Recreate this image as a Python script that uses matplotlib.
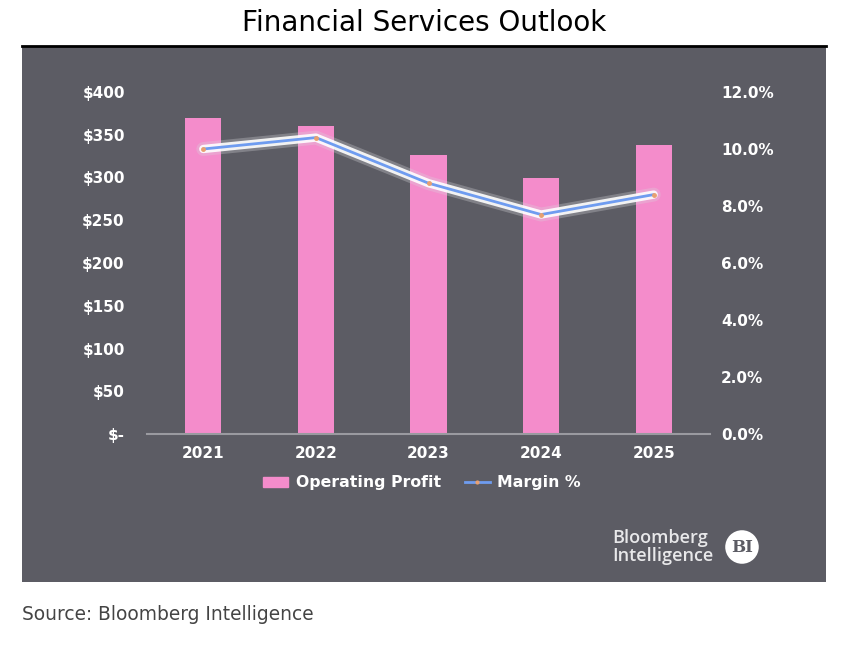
import matplotlib
matplotlib.use("Agg")
import matplotlib.pyplot as plt
import matplotlib.patches as mpatches
import matplotlib.patheffects as pe
from matplotlib.lines import Line2D
import numpy as np

years = ["2021", "2022", "2023", "2024", "2025"]
profit = [370, 360, 326, 300, 338]
margin = [10.0, 10.4, 8.8, 7.7, 8.4]
left_ticks = [0, 50, 100, 150, 200, 250, 300, 350, 400]
right_ticks = [0, 2, 4, 6, 8, 10, 12]

W, H = 848, 654
bg = "#5c5c64"
pink = "#f48ccb"
blue = "#6f9cf0"
dot = "#e8a070"

fig = plt.figure(figsize=(W / 100, H / 100), dpi=100)

# dark panel + black top line
fig.patches.append(mpatches.Rectangle((22 / W, 1 - 582 / H), 804 / W, 536 / H,
                                      transform=fig.transFigure, fc=bg, ec="none", zorder=-10))
fig.add_artist(Line2D([22 / W, 826 / W], [1 - 46 / H] * 2, color="black", lw=2))

fig.text(424 / W, 1 - 23 / H, "Financial Services Outlook", ha="center", va="center",
         fontsize=20, color="black")
fig.text(22 / W, 1 - 615 / H, "Source: Bloomberg Intelligence", ha="left", va="center",
         fontsize=13.4, color="#444444")

ax = fig.add_axes([147 / W, 1 - 434 / H, 563 / W, 342 / H])
ax.set_zorder(2)
ax.set_facecolor("none")
x = np.arange(len(years))
ax.bar(x, profit, width=0.32, color=pink, zorder=2)
ax.set_xlim(-0.5, len(years) - 0.5)
ax.set_ylim(0, 400)
ax.set_yticks(left_ticks)
ax.set_yticklabels(["$-" if v == 0 else "${}".format(v) for v in left_ticks])
ax.set_xticks(x)
ax.set_xticklabels(years)
for s in ["top", "left", "right"]:
    ax.spines[s].set_visible(False)
ax.spines["bottom"].set_color("#9a9aa0")
ax.spines["bottom"].set_linewidth(1.5)
ax.tick_params(axis="both", length=0, colors="white", labelsize=11)
ax.tick_params(axis="y", pad=16)
ax.tick_params(axis="x", pad=9)
for lab in ax.get_xticklabels() + ax.get_yticklabels():
    lab.set_fontweight("bold")

ax2 = ax.twinx()
ax2.set_ylim(0, 12)
ax2.set_yticks(right_ticks)
ax2.set_yticklabels(["{:.1f}%".format(v) for v in right_ticks])
for s in ["top", "left", "right", "bottom"]:
    ax2.spines[s].set_visible(False)
ax2.tick_params(axis="y", length=0, colors="white", labelsize=11, pad=8)
for lab in ax2.get_yticklabels():
    lab.set_fontweight("bold")
ax2.plot(x, margin, color=blue, lw=2, zorder=3, solid_joinstyle="round",
         solid_capstyle="round",
         path_effects=[pe.Stroke(linewidth=10, foreground="#d8d8dc", alpha=0.3),
                       pe.Stroke(linewidth=6, foreground="white", alpha=0.9),
                       pe.Normal()])
ax2.plot(x, margin, ls="none", marker="o", ms=2.5, mfc=dot, mec=dot, zorder=4)

handles = [mpatches.Patch(color=pink, label="Operating Profit"),
           Line2D([], [], color=blue, lw=2, marker="o", ms=2, mfc=dot,
                  mec=dot, label="Margin %")]
leg = fig.legend(handles=handles, loc="center", bbox_to_anchor=(422 / W, 1 - 483 / H),
                 ncol=2, frameon=False, handlelength=1.6, handleheight=0.6,
                 columnspacing=1.5, handletextpad=0.5,
                 prop={"size": 11.3, "weight": "bold"})
for t in leg.get_texts():
    t.set_color("white")

# logo
fig.text(612 / W, 1 - 547 / H, "Bloomberg\nIntelligence", ha="left", va="center",
         fontsize=13, color="#e8e8ea", linespacing=1.0, family="Open Sans",
         weight="semibold")
fig.text(742 / W, 1 - 547 / H, "BI", ha="center", va="center", fontsize=12,
         color=bg, family="DejaVu Serif", weight="bold",
         bbox=dict(boxstyle="circle,pad=0.35", fc="white", ec="none"))

fig.savefig("out.png", dpi=100)
